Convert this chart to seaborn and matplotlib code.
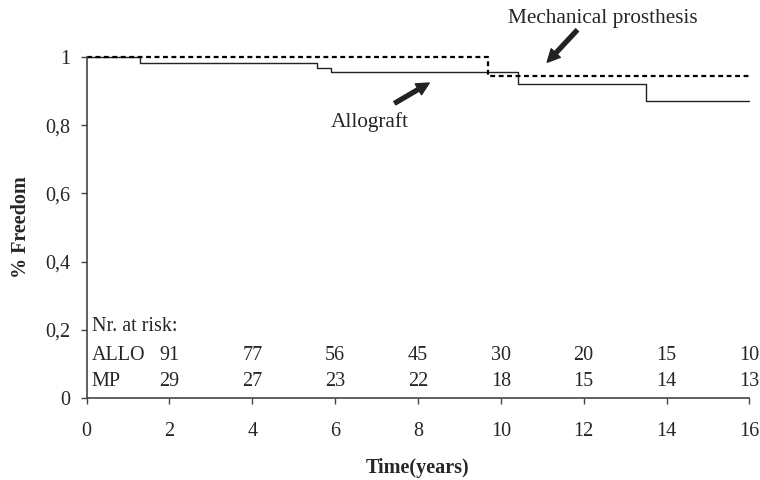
import matplotlib
matplotlib.use("Agg")
import matplotlib.pyplot as plt
import seaborn as sns
import pandas as pd

# Kaplan-Meier style step data
allo_time = [0, 1.3, 5.55, 5.9, 10.42, 13.5, 16]
allo_surv = [1.0, 0.984, 0.969, 0.956, 0.92, 0.87, 0.87]
mp_time = [0, 9.7, 16]
mp_surv = [1.0, 0.945, 0.945]

# Number at risk table
risk_years = [2, 4, 6, 8, 10, 12, 14, 16]
allo_risk = [91, 77, 56, 45, 30, 20, 15, 10]
mp_risk = [29, 27, 23, 22, 18, 15, 14, 13]

x_ticks = [0, 2, 4, 6, 8, 10, 12, 14, 16]
y_ticks = [0, 0.2, 0.4, 0.6, 0.8, 1.0]
y_ticklabels = ["0", "0,2", "0,4", "0,6", "0,8", "1"]

sns.set_theme(style="white")
plt.rcParams["font.family"] = ["Liberation Serif", "DejaVu Serif"]
FS = 14.5

fig = plt.figure(figsize=(7.6, 4.8), dpi=100)
ax = fig.add_axes([0.114, 0.171, 0.872, 0.71])

df_allo = pd.DataFrame({"time": allo_time, "surv": allo_surv})
df_mp = pd.DataFrame({"time": mp_time, "surv": mp_surv})

sns.lineplot(data=df_allo, x="time", y="surv", ax=ax, drawstyle="steps-post",
             color="#222222", linewidth=1.0, estimator=None, clip_on=False)
sns.lineplot(data=df_mp, x="time", y="surv", ax=ax, drawstyle="steps-post",
             color="black", linewidth=1.6, linestyle=(0, (2.2, 1.6)),
             estimator=None, clip_on=False)

ax.set_xlim(0, 16)
ax.set_ylim(0, 1)
ax.set_xticks(x_ticks)
ax.set_xticklabels([str(v) for v in x_ticks], fontsize=FS)
ax.set_yticks(y_ticks)
ax.set_yticklabels(y_ticklabels, fontsize=FS)
ax.tick_params(axis="x", direction="out", length=4.5, width=1, color="#444444", pad=13,
               bottom=True)
ax.tick_params(axis="y", direction="out", length=4.5, width=1, color="#444444", pad=7,
               left=True)
for s in ["top", "right"]:
    ax.spines[s].set_visible(False)
for s in ["left", "bottom"]:
    ax.spines[s].set_color("#444444")
    ax.spines[s].set_linewidth(1.2)

ax.set_xlabel("Time(years)", fontsize=FS, fontweight="bold", labelpad=12)
ax.set_ylabel("% Freedom", fontsize=FS, fontweight="bold", labelpad=10.5)

# risk table
ax.text(0.12, 0.209, "Nr. at risk:", fontsize=FS, ha="left", va="center")
ax.text(0.12, 0.124, "ALLO", fontsize=FS, ha="left", va="center")
ax.text(0.12, 0.048, "MP", fontsize=FS, ha="left", va="center")
for xv, a, m in zip(risk_years, allo_risk, mp_risk):
    ax.text(xv, 0.124, str(a), fontsize=FS, ha="center", va="center")
    ax.text(xv, 0.048, str(m), fontsize=FS, ha="center", va="center")

arrow = dict(facecolor="#222222", edgecolor="#222222", width=2.8, headwidth=9,
             headlength=9, shrink=0)
ax.text(12.45, 1.114, "Mechanical prosthesis", fontsize=15.3, ha="center", va="center",
        clip_on=False)
ax.annotate("", xy=(11.12, 0.985), xytext=(11.84, 1.079), arrowprops=arrow,
            annotation_clip=False)
ax.text(6.84, 0.809, "Allograft", fontsize=15.3, ha="center", va="center")
ax.annotate("", xy=(8.27, 0.924), xytext=(7.44, 0.865), arrowprops=arrow)

fig.savefig("out.png", dpi=100)
